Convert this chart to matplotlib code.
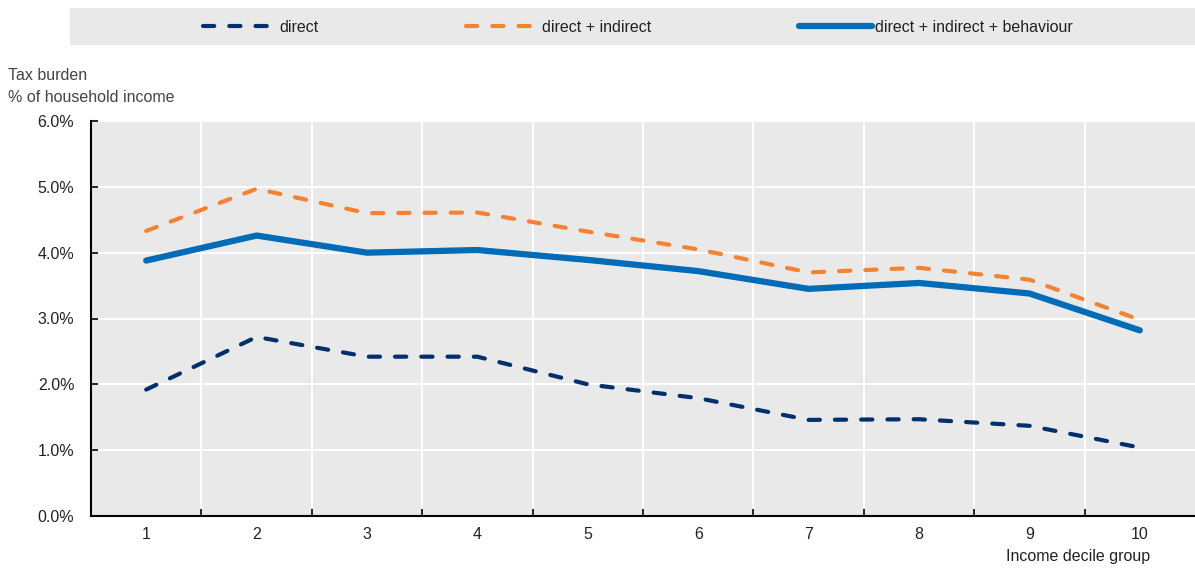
import matplotlib
matplotlib.use("Agg")
import matplotlib.pyplot as plt
from matplotlib.patches import Rectangle
from matplotlib.ticker import FuncFormatter

plt.rcParams['font.family'] = ['Liberation Sans Narrow', 'Liberation Sans', 'DejaVu Sans']

# data
deciles = [1, 2, 3, 4, 5, 6, 7, 8, 9, 10]
direct = [1.92, 2.72, 2.42, 2.42, 2.00, 1.79, 1.46, 1.47, 1.37, 1.04]
direct_indirect = [4.33, 4.97, 4.60, 4.61, 4.32, 4.05, 3.70, 3.77, 3.59, 2.98]
behaviour = [3.88, 4.26, 4.00, 4.04, 3.89, 3.72, 3.45, 3.54, 3.38, 2.82]
labels = ['direct', 'direct + indirect', 'direct + indirect + behaviour']

navy = '#002F6C'
orange = '#F58233'
blue = '#006BB6'
txt = '#222222'

fig = plt.figure(figsize=(11.95, 5.68), dpi=100)
ax = fig.add_axes([91/1195, 1 - 516/568, 1 - 91/1195, (516 - 121)/568])
ax.set_facecolor('#E9E9E9')

l1, = ax.plot(deciles, direct, color=navy, lw=3, dashes=(2.7, 3.6),
              dash_capstyle='round', label=labels[0])
l2, = ax.plot(deciles, direct_indirect, color=orange, lw=3, dashes=(2.7, 3.6),
              dash_capstyle='round', label=labels[1])
l3, = ax.plot(deciles, behaviour, color=blue, lw=4.5, solid_capstyle='round',
              label=labels[2])

ax.set_xlim(0.5, 10.5)
ax.set_ylim(0, 6)
ax.set_xticks(deciles)
ax.set_xticks([d + 0.5 for d in deciles[:-1]], minor=True)
ax.set_yticks(range(0, 7))
ax.yaxis.set_major_formatter(FuncFormatter(lambda v, p: f'{v:.1f}%'))
ax.tick_params(axis='x', which='major', length=0, pad=8, labelsize=11.5, colors=txt)
ax.tick_params(axis='x', which='minor', length=5, width=1.2, direction='in', color='black')
ax.tick_params(axis='y', length=5, width=1.2, direction='in', pad=12, labelsize=11.5,
               colors=txt)
ax.tick_params(axis='y', colors='black', labelcolor=txt)

ax.grid(True, which='minor', axis='x', color='white', lw=1.5)
ax.grid(True, which='major', axis='y', color='white', lw=1.5)
ax.set_axisbelow(True)
for s in ['top', 'right']:
    ax.spines[s].set_visible(False)
for s in ['left', 'bottom']:
    ax.spines[s].set_linewidth(1.5)
    ax.spines[s].set_zorder(5)

fig.text(1150/1195, 1 - 557/568, 'Income decile group', ha='right', va='center',
         fontsize=11.5, color=txt)
fig.text(8/1195, 1 - 75/568, 'Tax burden', ha='left', va='center', fontsize=11.5,
         color='#444444')
fig.text(8/1195, 1 - 97/568, '% of household income', ha='left', va='center',
         fontsize=11.5, color='#444444')

# legend band
fig.patches.append(Rectangle((70/1195, 1 - 45/568), 1 - 70/1195, 37/568,
                             transform=fig.transFigure, facecolor='#E9E9E9',
                             edgecolor='none', zorder=0))
fig.legend(handles=[l1, l2, l3], loc='center', bbox_to_anchor=(638/1195, 1 - 27/568),
           ncol=3, frameon=False, fontsize=11.5, handlelength=4.6, handletextpad=0.2,
           columnspacing=9.2, labelcolor=txt)

fig.savefig('out.png', dpi=100)
